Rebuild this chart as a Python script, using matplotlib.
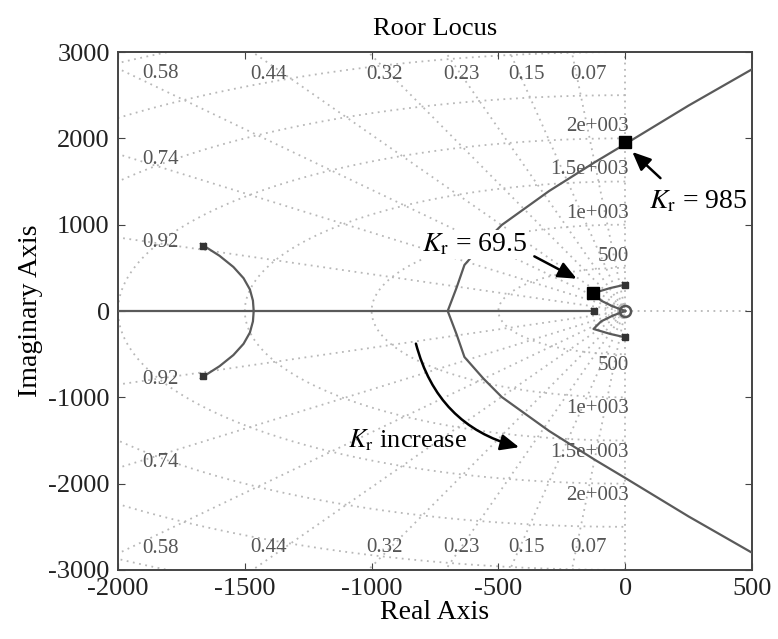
import matplotlib
matplotlib.use('Agg')
import matplotlib.pyplot as plt
import numpy as np
from matplotlib.patches import FancyArrowPatch

plt.rcParams.update({
    'font.family': 'Liberation Serif',
    'mathtext.fontset': 'stix',
    'font.size': 19,
    'axes.unicode_minus': False,
    'axes.linewidth': 1.4,
    'axes.edgecolor': '#444444',
    'xtick.direction': 'in',
    'ytick.direction': 'in',
    'xtick.top': True,
    'ytick.right': True,
    'xtick.major.size': 5,
    'ytick.major.size': 5,
    'xtick.color': '#444444',
    'ytick.color': '#444444',
    'xtick.labelcolor': '#222222',
    'ytick.labelcolor': '#222222',
})

# ---- data ----
x_ticks = [-2000, -1500, -1000, -500, 0, 500]
y_ticks = [-3000, -2000, -1000, 0, 1000, 2000, 3000]

damping = [0.07, 0.15, 0.23, 0.32, 0.44, 0.58, 0.74, 0.92]
damping_labels = ['0.07', '0.15', '0.23', '0.32', '0.44', '0.58', '0.74', '0.92']
freqs = [500, 1000, 1500, 2000, 2500, 3000, 3500]
freq_labels = ['500', '1e+003', '1.5e+003', '2e+003']

# complex pole pair on the left -> break-in on real axis (upper half)
left_x = [-1663, -1600, -1545, -1505, -1480, -1468, -1465]
left_y = [758, 640, 510, 380, 250, 120, 0]

# branch leaving breakaway at -700 toward asymptote (lower half)
asym_x = [-700, -665, -634, -560, -487, -300, -119, 0, 250, 500]
asym_y = [0, -270, -533, -780, -996, -1390, -1725, -1934, -2380, -2800]

# branch from pole near imaginary axis into zero at origin (upper half)
near_x = [0, -60, -125, -95, -50, 0]
near_y = [305, 265, 208, 120, 55, 0]

real_axis_span = [-2000, -123]

poles_x = [-1663, -1663, 0, 0, -123]
poles_y = [758, -758, 305, -305, 0]
zero_x, zero_y = [0], [0]

k_pts_x = [-128, 0]
k_pts_y = [208, 1957]

LOCUS = '#5a5a5a'
GRID = '#b8b8b8'

fig = plt.figure(figsize=(7.78, 6.39), dpi=100)
ax = fig.add_axes([0.1517, 0.108, 0.8149, 0.8106])
xmin, xmax, ymin, ymax = -2000, 500, -3000, 3000

# ---- s-plane grid (damping rays + frequency circles) ----
for z, lab in zip(damping, damping_labels):
    th = np.arccos(z)
    slope = np.tan(th)
    y_left = -xmin * slope
    if y_left <= ymax:
        xe, ye = xmin, y_left
        lx, ly = -1834, y_left - 60
    else:
        xe, ye = -ymax / slope, ymax
        lx, ly = xe + 65, 2740
    for s in (1, -1):
        ax.plot([0, xe], [0, s * ye], ls=(0, (1, 2.5)), color=GRID, lw=1.3, zorder=1)
        ax.text(lx, s * ly, lab, ha='center', va='center', fontsize=15,
                color='#555555', zorder=2)

t = np.linspace(np.pi / 2, 3 * np.pi / 2, 400)
for w in freqs:
    ax.plot(w * np.cos(t), w * np.sin(t), ls=(0, (1, 2.5)), color=GRID, lw=1.3, zorder=1)
for w in [40, 80]:
    ax.plot(w * np.cos(t), w * np.sin(t), ls=(0, (1, 1.5)), color=GRID, lw=1.0, zorder=1)

ax.plot([0, 0], [ymin, ymax], ls=(0, (1, 2.5)), color=GRID, lw=1.3, zorder=1)
ax.plot([0, xmax], [0, 0], ls=(0, (1, 2.5)), color=GRID, lw=1.3, zorder=1)

for w, lab in zip(freqs, freq_labels):
    for s in (1, -1):
        ax.text(15, s * (w + 135), lab, ha='right', va='center', fontsize=15,
                color='#555555', zorder=2)

# ---- root locus ----
lw = 1.6
ax.plot(real_axis_span, [0, 0], color=LOCUS, lw=lw, zorder=3)
for s in (1, -1):
    ax.plot(left_x, s * np.array(left_y), color=LOCUS, lw=lw, zorder=3)
    ax.plot(asym_x, -s * np.array(asym_y), color=LOCUS, lw=lw, zorder=3)
    ax.plot(near_x, s * np.array(near_y), color=LOCUS, lw=lw, zorder=3)

ax.plot(poles_x, poles_y, ls='none', marker='s', ms=4, color='#333333', zorder=4)
ax.plot(poles_x, poles_y, ls='none', marker='x', ms=5, mew=1.2, color='#333333', zorder=4)
ax.plot(zero_x, zero_y, ls='none', marker='o', ms=8, mfc='none', mew=1.8,
        color='#555555', zorder=4)
ax.plot(k_pts_x, k_pts_y, ls='none', marker='s', ms=8, color='black', zorder=5)

# ---- annotations ----
ax.text(95, 1270, r'$K_{\mathrm{r}}$ = 985', fontsize=20, ha='left', va='center', zorder=6)
ax.text(-800, 770, r'$K_{\mathrm{r}}$ = 69.5', fontsize=20, ha='left', va='center', zorder=6,
        bbox=dict(fc='white', ec='none', pad=1))
ax.text(-1093, -1494, r'$K_{\mathrm{r}}$ increase', fontsize=19, ha='left', va='center',
        zorder=6)

arrow_kw = dict(arrowstyle='-|>,head_length=0.8,head_width=0.35', color='black',
                lw=1.8, mutation_scale=14, zorder=6)
ax.add_patch(FancyArrowPatch((147, 1517), (20, 1864), **arrow_kw))
ax.add_patch(FancyArrowPatch((-368, 648), (-182, 359), **arrow_kw))
ax.add_patch(FancyArrowPatch((-828, -347), (-408, -1586),
                             connectionstyle='arc3,rad=0.3', **arrow_kw))

ax.set_xlim(xmin, xmax)
ax.set_ylim(ymin, ymax)
ax.set_xticks(x_ticks)
ax.set_yticks(y_ticks)
ax.tick_params(labelsize=19, pad=6)
ax.set_title('Roor Locus', fontsize=19, pad=12)
ax.set_xlabel('Real Axis', fontsize=20, labelpad=0)
ax.set_ylabel('Imaginary Axis', fontsize=20, labelpad=4)

fig.savefig('out.png', dpi=100)
